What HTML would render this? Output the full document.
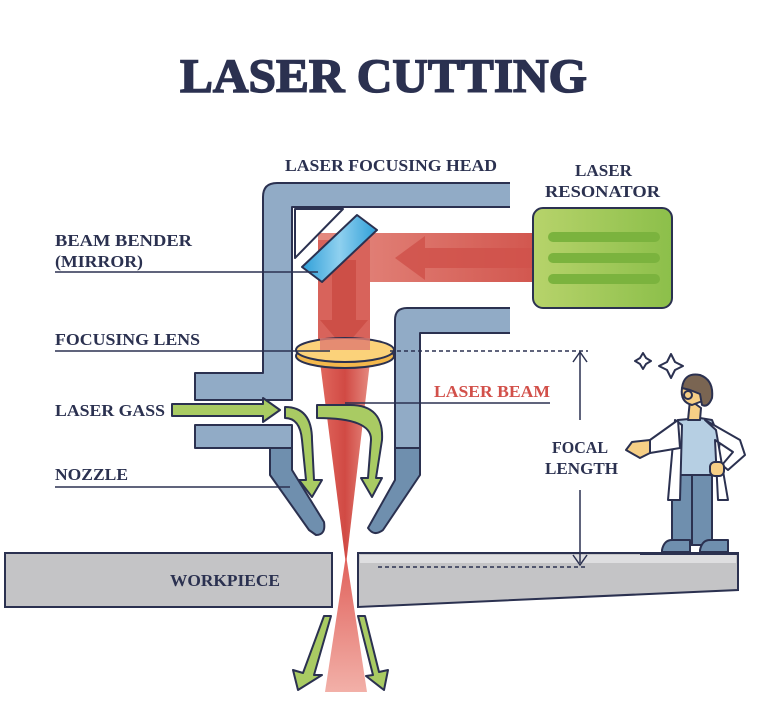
<!DOCTYPE html>
<html><head><style>
body{margin:0;background:#fff;}
svg{display:block;}
text{font-family:"Liberation Serif",serif;font-weight:bold;fill:#2b3150;}
</style></head><body>
<svg width="760" height="720" viewBox="0 0 760 720" xmlns="http://www.w3.org/2000/svg">
<defs>
<linearGradient id="beam" x1="0" x2="1"><stop offset="0" stop-color="#e58a80"/><stop offset="1" stop-color="#d2574f"/></linearGradient>
<linearGradient id="cone" x1="0" x2="1"><stop offset="0" stop-color="#e0675e"/><stop offset="0.5" stop-color="#d14a44"/><stop offset="1" stop-color="#e58a80"/></linearGradient>
<linearGradient id="cone2" x1="0" y1="0" x2="0" y2="1"><stop offset="0" stop-color="#e0605a"/><stop offset="1" stop-color="#f2b0a8"/></linearGradient>
<linearGradient id="res" x1="0" x2="1"><stop offset="0" stop-color="#b7d36b"/><stop offset="1" stop-color="#8cbf4a"/></linearGradient>
<linearGradient id="mir" x1="0" x2="1"><stop offset="0" stop-color="#2e9fd8"/><stop offset="0.5" stop-color="#8fd0ef"/><stop offset="1" stop-color="#2e9fd8"/></linearGradient>
</defs>
<text x="180" y="92" font-size="48" textLength="407" lengthAdjust="spacingAndGlyphs" style="font-weight:900" stroke="#2b3150" stroke-width="1.5">LASER CUTTING</text>

<rect x="318" y="233" width="216" height="49" fill="url(#beam)"/>
<polygon points="395,258 425,236 425,248 534,248 534,268 425,268 425,280" fill="#d0524b" opacity="0.85"/>
<rect x="318" y="240" width="52" height="115" fill="#d8635b"/>
<polygon points="332,260 356,260 356,320 368,320 344,348 320,320 332,320" fill="#c9473f" opacity="0.7"/>
<polygon points="320,362 370,362 346,565" fill="url(#cone)"/>
<polygon points="346,555 325,692 367,692" fill="url(#cone2)"/>

<g stroke="#2b3150" stroke-width="2" stroke-linejoin="round">
<path d="M510,183 L277,183 Q263,183 263,197 L263,373 L195,373 L195,400 L292,400 L292,207 L510,207" fill="#91abc6"/>
<polygon points="295,209 343,209 295,258" fill="#fff"/>
<rect x="195" y="425" width="97" height="23" fill="#91abc6"/>
<path d="M270,448 L292,448 L292,470 L324,522 Q326,535 316,535 L309,530 L270,475 Z" fill="#6f8fae"/>
<path d="M510,308 L407,308 Q395,308 395,320 L395,448 L420,448 L420,333 L510,333" fill="#91abc6"/>
<path d="M395,448 L420,448 L420,475 L383,530 Q374,537 368,528 L395,480 Z" fill="#6f8fae"/>
<polygon points="357,215 377,230 322,282 302,267" fill="url(#mir)"/>
<ellipse cx="345" cy="356" rx="49" ry="12" fill="#f3b84c"/>
<ellipse cx="345" cy="350" rx="49" ry="12" fill="#fbd27a"/>
</g>
<rect x="320" y="338" width="50" height="12" fill="#e07a70" opacity="0.8"/>
<g stroke="#2b3150" stroke-width="2" fill="#a9cb63" stroke-linejoin="round">
<polygon points="172,404 263,404 263,398 280,410 263,422 263,416 172,416"/>
<path d="M285,407 Q312,407 312,440 L314,480 L322,480 L312,497 L299,480 L306,480 L302,440 Q300,418 285,418 Z"/>
<path d="M317,405 L317,418 Q372,418 371,440 L368,478 L361,478 L372,497 L382,478 L376,478 L382,440 Q384,405 350,405 Z"/>
<polygon points="324,616 331,616 314,675 322,675 298,690 293,670 303,673"/>
<polygon points="358,616 365,616 379,672 388,670 384,690 366,676 373,675"/>
</g>

<g stroke="#2b3150" stroke-width="2">
<rect x="5" y="553" width="327" height="54" fill="#c4c4c6"/>
<polygon points="358,553 738,553 738,590 358,607" fill="#c4c4c6"/>
</g>
<polygon points="360,555 736,555 736,563 360,563" fill="#dedee0"/>

<rect x="533" y="208" width="139" height="100" rx="10" fill="url(#res)" stroke="#2b3150" stroke-width="2"/>
<g stroke="#7bb33e" stroke-width="10" stroke-linecap="round">
<line x1="553" y1="237" x2="655" y2="237"/><line x1="553" y1="258" x2="655" y2="258"/><line x1="553" y1="279" x2="655" y2="279"/>
</g>

<g stroke="#2b3150" stroke-width="1.5" fill="none">
<line x1="55" y1="272" x2="318" y2="272"/>
<line x1="55" y1="351" x2="330" y2="351"/>
<line x1="55" y1="487" x2="290" y2="487"/>
<line x1="345" y1="403" x2="550" y2="403"/>
<line x1="390" y1="351" x2="588" y2="351" stroke-dasharray="4,3"/>
<line x1="378" y1="567" x2="588" y2="567" stroke-dasharray="4,3"/>
<line x1="580" y1="353" x2="580" y2="420"/>
<line x1="580" y1="490" x2="580" y2="563"/>
<polyline points="573,362 580,352 587,362"/>
<polyline points="573,555 580,565 587,555"/>
</g>

<g font-size="17">
<text x="285" y="171" textLength="212" lengthAdjust="spacingAndGlyphs">LASER FOCUSING HEAD</text>
<text x="575" y="176" textLength="57" lengthAdjust="spacingAndGlyphs">LASER</text>
<text x="545" y="197" textLength="115" lengthAdjust="spacingAndGlyphs">RESONATOR</text>
<text x="55" y="246" textLength="137" lengthAdjust="spacingAndGlyphs">BEAM BENDER</text>
<text x="55" y="267" textLength="88" lengthAdjust="spacingAndGlyphs">(MIRROR)</text>
<text x="55" y="345" textLength="145" lengthAdjust="spacingAndGlyphs">FOCUSING LENS</text>
<text x="55" y="416" textLength="110" lengthAdjust="spacingAndGlyphs">LASER GASS</text>
<text x="55" y="480" textLength="73" lengthAdjust="spacingAndGlyphs">NOZZLE</text>
<text x="434" y="397" textLength="116" lengthAdjust="spacingAndGlyphs" style="fill:#d2504a">LASER BEAM</text>
<text x="552" y="453" textLength="56" lengthAdjust="spacingAndGlyphs">FOCAL</text>
<text x="545" y="474" textLength="73" lengthAdjust="spacingAndGlyphs">LENGTH</text>
<text x="170" y="586" textLength="110" lengthAdjust="spacingAndGlyphs">WORKPIECE</text>
</g>

<g stroke="#2b3150" stroke-width="2" stroke-linejoin="round">
<path d="M640,358 l3,-5 l3,5 l5,3 l-5,3 l-3,5 l-3,-5 l-5,-3 z" fill="#fff"/>
<path d="M667,362 l4,-8 l4,8 l8,4 l-8,4 l-4,8 l-4,-8 l-8,-4 z" fill="#fff"/>
<rect x="672" y="470" width="20" height="75" fill="#6f8fae"/>
<rect x="692" y="470" width="20" height="75" fill="#6f8fae"/>
<path d="M662,550 Q664,540 672,540 L690,540 L690,552 L662,552 Z" fill="#6f8fae"/>
<path d="M700,550 Q702,540 710,540 L728,540 L728,552 L700,552 Z" fill="#6f8fae"/>
<path d="M678,420 L700,418 L712,420 L720,440 L716,475 L678,475 Z" fill="#b6cfe3"/>
<path d="M675,420 L668,500 L680,500 L682,425 Z" fill="#fff"/>
<path d="M705,420 L740,440 L745,455 L728,470 L722,465 L733,452 L715,440 L718,500 L728,500 L716,430 Z" fill="#fff"/>
<path d="M678,420 L650,440 L650,453 L680,448 Z" fill="#fff"/>
<path d="M650,440 L632,442 L626,450 L640,458 L650,453 Z" fill="#f6cf86"/>
<rect x="710" y="462" width="14" height="14" rx="5" fill="#f6cf86"/>
<path d="M690,400 L688,420 L700,420 L701,408 Z" fill="#f6cf86"/>
<path d="M682,388 Q680,402 692,405 L705,400 L705,385 Z" fill="#f6cf86"/>
<path d="M682,388 Q684,372 700,375 Q714,380 712,398 Q708,408 702,405 L700,394 L690,390 Z" fill="#7a6552"/>
<circle cx="688" cy="395" r="4" fill="none"/>
</g>
<line x1="640" y1="554" x2="738" y2="554" stroke="#2b3150" stroke-width="2"/>
</svg>
</body></html>
